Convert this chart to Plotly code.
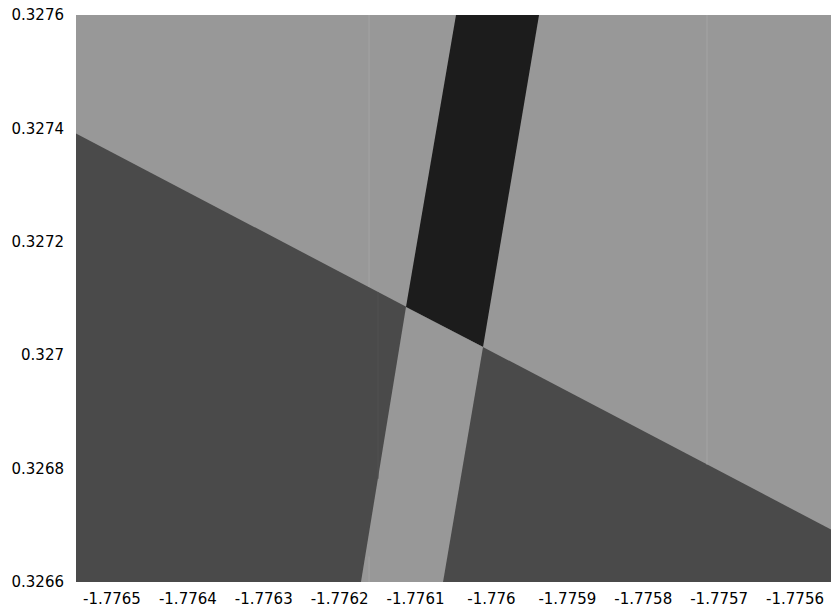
import plotly.graph_objects as go

# Plot window
x_range = [-1.7765474, -1.7755526]
y_range = [0.3266, 0.3276]

# Tick values / labels
x_ticks = [-1.7765, -1.7764, -1.7763, -1.7762, -1.7761, -1.776,
           -1.7759, -1.7758, -1.7757, -1.7756]
x_tick_text = ["-1.7765", "-1.7764", "-1.7763", "-1.7762", "-1.7761", "-1.776",
               "-1.7759", "-1.7758", "-1.7757", "-1.7756"]
y_ticks = [0.3266, 0.3268, 0.327, 0.3272, 0.3274, 0.3276]
y_tick_text = ["0.3266", "0.3268", "0.327", "0.3272", "0.3274", "0.3276"]

# Region below the dividing line
lower_x = [-1.7765474, -1.7755526, -1.7755526, -1.7765474]
lower_y = [0.327391, 0.3266926, 0.3266, 0.3266]

# Slanted band, part above the dividing line
band_upper_x = [-1.7760467, -1.7759373, -1.7760111, -1.7761126]
band_upper_y = [0.3276, 0.3276, 0.3270145, 0.327085]

# Slanted band, part below the dividing line
band_lower_x = [-1.7761126, -1.7760111, -1.7760638, -1.7761719]
band_lower_y = [0.327085, 0.3270145, 0.3266, 0.3266]

# Faint tile seams on the light areas
seam_light_x = [[-1.7761613, -1.7761613], [-1.7757160, -1.7757160],
                [-1.7761613, -1.7761613]]
seam_light_y = [[0.3276, 0.3271203], [0.3276, 0.3268072],
                [0.3266450, 0.3266]]
# Faint tile seam on the dark area
seam_dark_x = [[-1.7761495, -1.7761495]]
seam_dark_y = [[0.3271115, 0.3267820]]

LIGHT = "#989898"
DARK = "#4a4a4a"
DARKEST = "#1c1c1c"

fig = go.Figure()


def poly(xs, ys, color):
    fig.add_trace(go.Scatter(
        x=xs + [xs[0]], y=ys + [ys[0]], mode="lines", fill="toself",
        fillcolor=color, line=dict(width=0, color=color),
        hoverinfo="skip", showlegend=False))


poly(lower_x, lower_y, DARK)
poly(band_upper_x, band_upper_y, DARKEST)
poly(band_lower_x, band_lower_y, LIGHT)

for xs, ys in zip(seam_light_x, seam_light_y):
    fig.add_trace(go.Scatter(x=xs, y=ys, mode="lines",
                             line=dict(width=1, color="#a4a4a4"),
                             hoverinfo="skip", showlegend=False))
for xs, ys in zip(seam_dark_x, seam_dark_y):
    fig.add_trace(go.Scatter(x=xs, y=ys, mode="lines",
                             line=dict(width=1, color="#525252"),
                             hoverinfo="skip", showlegend=False))

fig.update_layout(
    width=831, height=611,
    margin=dict(l=76, r=0, t=15, b=29),
    paper_bgcolor="white",
    plot_bgcolor=LIGHT,
    font=dict(family="DejaVu Sans, sans-serif", size=15, color="black"),
    showlegend=False,
)
fig.update_xaxes(range=x_range, tickmode="array", tickvals=x_ticks,
                 ticktext=x_tick_text, showgrid=False, zeroline=False,
                 showline=False, ticks="outside", ticklen=3,
                 tickcolor="rgba(0,0,0,0)")
fig.update_yaxes(range=y_range, tickmode="array", tickvals=y_ticks,
                 ticktext=y_tick_text, showgrid=False, zeroline=False,
                 showline=False, ticks="outside", ticklen=8,
                 tickcolor="rgba(0,0,0,0)")

fig.write_html("out.html")
